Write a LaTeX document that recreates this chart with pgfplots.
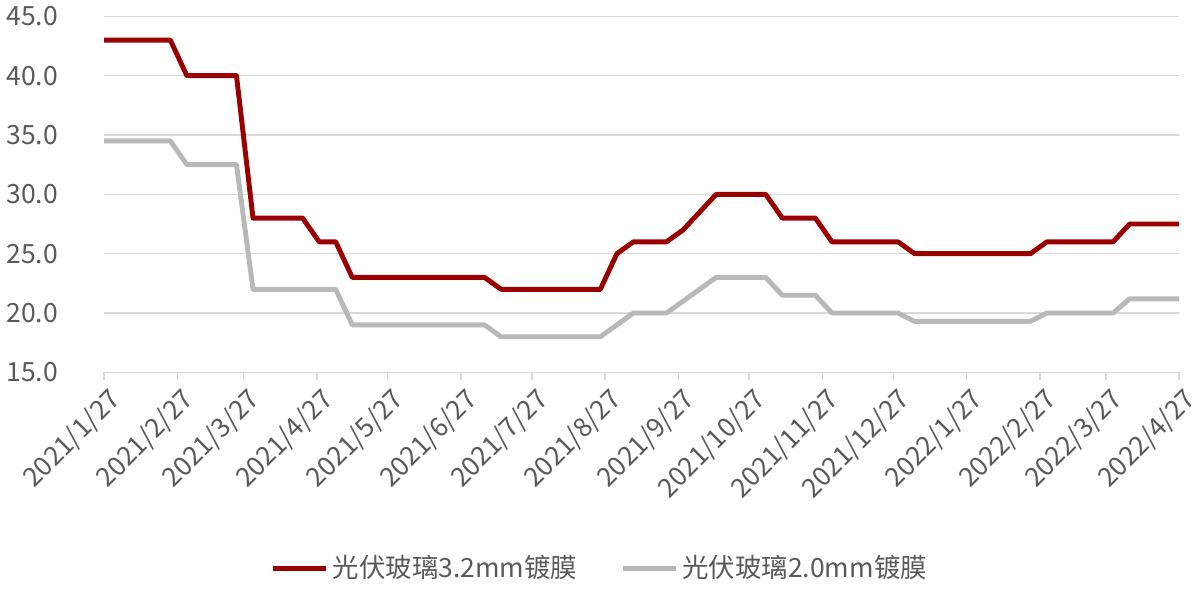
\documentclass[border=0pt]{standalone}
\usepackage{pgfplots}
\pgfplotsset{compat=1.18}
\usepackage{fontspec}
\setmainfont{Noto Sans CJK SC}
\definecolor{redline}{HTML}{990000}
\definecolor{greyline}{HTML}{B8B8B8}
\definecolor{txt}{HTML}{595959}
\definecolor{gridc}{HTML}{D9D9D9}

% weekly data, x = days since 2021/1/27
\pgfplotstableread{
d    a     b
0    43    34.5
7    43    34.5
14   43    34.5
21   43    34.5
28   43    34.5
35   40    32.5
42   40    32.5
49   40    32.5
56   40    32.5
63   28    22
70   28    22
77   28    22
84   28    22
91   26    22
98   26    22
105  23    19
112  23    19
119  23    19
126  23    19
133  23    19
140  23    19
147  23    19
154  23    19
161  23    19
168  22    18
175  22    18
182  22    18
189  22    18
196  22    18
203  22    18
210  22    18
217  25    19
224  26    20
231  26    20
238  26    20
245  27    21
252  28.5  22
259  30    23
266  30    23
273  30    23
280  30    23
287  28    21.5
294  28    21.5
301  28    21.5
308  26    20
315  26    20
322  26    20
329  26    20
336  26    20
343  25    19.3
350  25    19.3
357  25    19.3
364  25    19.3
371  25    19.3
378  25    19.3
385  25    19.3
392  25    19.3
399  26    20
406  26    20
413  26    20
420  26    20
427  26    20
434  27.5  21.2
441  27.5  21.2
448  27.5  21.2
455  27.5  21.2
}\prices

\begin{document}
\begin{tikzpicture}
\begin{axis}[
    scale only axis,
    width=548pt, height=181.5pt,
    xmin=0, xmax=455, ymin=15, ymax=45,
    font=\fontsize{13.5}{15}\selectfont,
    axis lines*=left,
    x axis line style={gridc, line width=0.8pt},
    y axis line style={draw=none},
    ytick={15,20,...,45},
    ymajorgrids, grid style={gridc, line width=0.8pt},
    xtick={0,31,59,90,120,151,181,212,243,273,304,334,365,396,424,455},
    xticklabels={2021/1/27,2021/2/27,2021/3/27,2021/4/27,2021/5/27,2021/6/27,2021/7/27,2021/8/27,2021/9/27,2021/10/27,2021/11/27,2021/12/27,2022/1/27,2022/2/27,2022/3/27,2022/4/27},
    x tick style={gridc, line width=0.8pt},
    y tick style={draw=none},
    tick align=outside, major tick length=4pt,
    tick label style={txt},
    xticklabel style={rotate=45, anchor=north east, inner sep=1pt, yshift=-2pt},
    yticklabel style={anchor=east, xshift=-16pt},
    y tick label style={/pgf/number format/.cd, fixed, fixed zerofill, precision=1, assume math mode=true},
    legend style={at={(0.462,-0.55)}, anchor=center, draw=none, fill=none,
        legend columns=2, font=\fontsize{13.5}{15}\selectfont, text=txt,
        /tikz/every even column/.append style={column sep=20pt}},
    legend image code/.code={\draw[#1, line width=2.5pt] (0pt,0pt) -- (27pt,0pt);},
]
\addplot[redline, line width=2.5pt, line join=round] table[x=d, y=a] {\prices};
\addlegendentry{光伏玻璃3.2mm镀膜}
\addplot[greyline, line width=2.5pt, line join=round] table[x=d, y=b] {\prices};
\addlegendentry{光伏玻璃2.0mm镀膜}
\end{axis}
\end{tikzpicture}
\end{document}
